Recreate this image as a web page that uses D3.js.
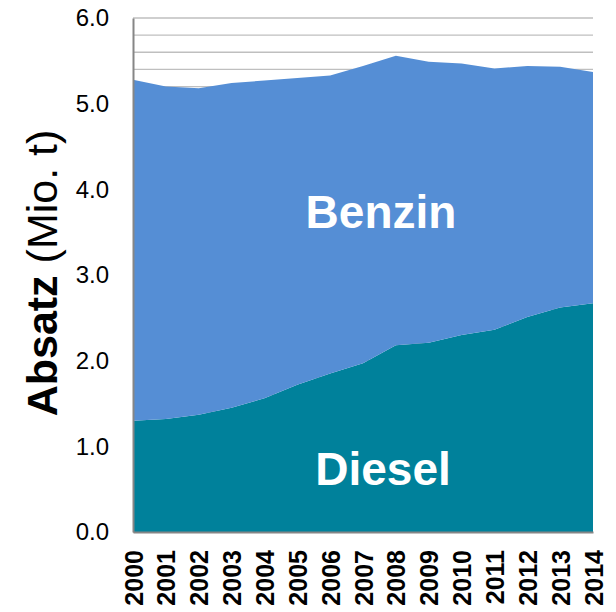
<!DOCTYPE html>
<html><head><meta charset="utf-8">
<script src="https://cdn.jsdelivr.net/npm/d3@7"></script>
<style>body{margin:0;background:#fff;}svg{display:block;font-family:Arial,"Liberation Sans",sans-serif;}</style>
</head><body><svg id="c" width="616" height="612"></svg>
<script>
const years = [2000,2001,2002,2003,2004,2005,2006,2007,2008,2009,2010,2011,2012,2013,2014];
const diesel = [1.30,1.32,1.37,1.45,1.56,1.72,1.85,1.97,2.18,2.21,2.30,2.36,2.51,2.62,2.67];
const benzin = [3.98,3.88,3.81,3.79,3.71,3.58,3.48,3.47,3.38,3.28,3.17,3.05,2.93,2.81,2.70];
const yTicks = [0,1,2,3,4,5,6];
const gridVals = d3.range(0, 31).map(i => i / 5);
const seriesNames = ["Diesel","Benzin"];
const colors = {Diesel:"#00819B", Benzin:"#558ED5"};

const W = 616, H = 612;
const m = {left:133, right:23, top:18, bottom:80};
const svg = d3.select("#c");
const x = d3.scalePoint().domain(years).range([m.left, W - m.right]);
const y = d3.scaleLinear().domain([0,6]).range([H - m.bottom, m.top]);

const table = years.map((yr,i) => ({year:yr, Diesel:diesel[i], Benzin:benzin[i]}));
const stack = d3.stack().keys(seriesNames)(table);

// grid
svg.append("g").selectAll("line").data(gridVals).join("line")
  .attr("x1", m.left).attr("x2", W - m.right)
  .attr("y1", d => y(d)).attr("y2", d => y(d))
  .attr("stroke", "#bfbfbf").attr("stroke-width", 1.3);

const area = d3.area().x(d => x(d.data.year)).y0(d => y(d[0])).y1(d => y(d[1]));
svg.append("g").selectAll("path").data(stack).join("path")
  .attr("d", area).attr("fill", d => colors[d.key]);

// axes
const yAxis = d3.axisLeft(y).tickValues(yTicks).tickFormat(d3.format(".1f")).tickSize(0).tickPadding(24);
const gy = svg.append("g").attr("transform", `translate(${m.left},0)`).call(yAxis);
gy.select(".domain").attr("stroke", "#868686").attr("stroke-width", 2);
gy.selectAll("text").attr("font-size", 24).attr("fill", "#000").attr("font-family","Arial, 'Liberation Sans', sans-serif");

const xAxis = d3.axisBottom(x).tickSize(0).tickPadding(0);
const gx = svg.append("g").attr("transform", `translate(0,${H - m.bottom})`).call(xAxis);
gx.select(".domain").attr("stroke", "#868686").attr("stroke-width", 2);
gx.selectAll("text")
  .attr("font-size", 25).attr("font-weight", "bold").attr("fill", "#000")
  .attr("font-family","Arial, 'Liberation Sans', sans-serif")
  .attr("transform", "rotate(-90)")
  .attr("text-anchor", "end").attr("dy", "0.36em").attr("x", -18).attr("y", 0);

// y title
const t = svg.append("text").attr("transform", `translate(57,273) rotate(-90)`)
  .attr("text-anchor", "middle").attr("font-size", 43).attr("fill", "#000");
t.append("tspan").attr("font-weight", "bold").text("Absatz");
t.append("tspan").text(" (Mio. t)");

// series labels
svg.append("text").attr("x", 381).attr("y", 228).attr("text-anchor","middle")
  .attr("font-size", 46).attr("font-weight","bold").attr("fill","#fff").text("Benzin");
svg.append("text").attr("x", 383).attr("y", 485).attr("text-anchor","middle")
  .attr("font-size", 46).attr("font-weight","bold").attr("fill","#fff").text("Diesel");
</script></body></html>
